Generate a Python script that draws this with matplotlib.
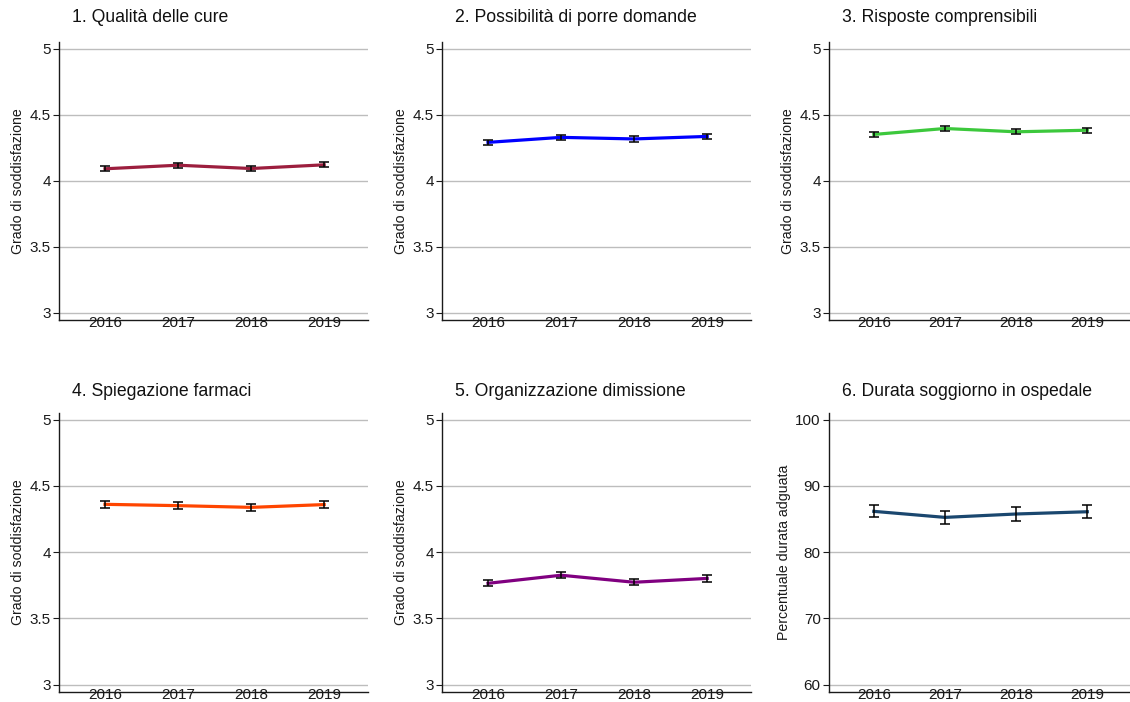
import numpy as np
import matplotlib
matplotlib.use("Agg")
import matplotlib.pyplot as plt

plt.rcParams['font.family'] = ['Liberation Sans', 'DejaVu Sans']

# --- dati ---
anni = [2016, 2017, 2018, 2019]

titoli = [
    "1. Qualità delle cure",
    "2. Possibilità di porre domande",
    "3. Risposte comprensibili",
    "4. Spiegazione farmaci",
    "5. Organizzazione dimissione",
    "6. Durata soggiorno in ospedale",
]
etichette_y = ["Grado di soddisfazione"] * 5 + ["Percentuale durata adguata"]

qualita = [4.09, 4.117, 4.092, 4.12]
qualita_err = [0.02, 0.02, 0.02, 0.02]
domande = [4.29, 4.328, 4.316, 4.335]
domande_err = [0.02, 0.021, 0.021, 0.021]
risposte = [4.35, 4.395, 4.37, 4.382]
risposte_err = [0.017, 0.018, 0.019, 0.019]
farmaci = [4.361, 4.351, 4.338, 4.359]
farmaci_err = [0.025, 0.025, 0.026, 0.025]
dimissione = [3.765, 3.826, 3.773, 3.802]
dimissione_err = [0.022, 0.022, 0.022, 0.024]
durata = [86.16, 85.25, 85.76, 86.1]
durata_err = [0.9, 1.0, 1.0, 1.0]

serie = [qualita, domande, risposte, farmaci, dimissione, durata]
errori = [qualita_err, domande_err, risposte_err, farmaci_err, dimissione_err, durata_err]
colori = ["#9C1E3E", "#0000FF", "#3CC83C", "#FF4500", "#800080", "#1A476F"]

tick_sodd = [3, 3.5, 4, 4.5, 5]
tick_sodd_lab = ["3", "3.5", "4", "4.5", "5"]
tick_perc = [60, 70, 80, 90, 100]
tick_perc_lab = ["60", "70", "80", "90", "100"]

# --- figura ---
W, H = 1130, 702
fig = plt.figure(figsize=(W / 100, H / 100), dpi=100)

col_left = [59, 442, 829]
col_width = [309, 309, 301]
row_top = [42, 413]
row_bottom = [320, 692]

for i in range(6):
    r, c = divmod(i, 3)
    l, w = col_left[c], col_width[c]
    t, b = row_top[r], row_bottom[r]
    ax = fig.add_axes([l / W, 1 - b / H, w / W, (b - t) / H])

    ax.plot(anni, serie[i], color=colori[i], lw=2.3, zorder=3)
    ax.errorbar(anni, serie[i], yerr=errori[i], fmt='none', ecolor='black',
                elinewidth=1.1, capsize=3.8, capthick=1.1, zorder=4)

    if i < 5:
        ax.set_ylim(2.945, 5.05)
        ax.set_yticks(tick_sodd)
        ax.set_yticklabels(tick_sodd_lab)
    else:
        ax.set_ylim(58.9, 101.0)
        ax.set_yticks(tick_perc)
        ax.set_yticklabels(tick_perc_lab)
    ax.set_xlim(2015.37, 2019.6)
    ax.set_xticks(anni)
    ax.set_xticklabels([str(a) for a in anni])

    ax.grid(axis='y', color='#BDBDBD', lw=1.0)
    ax.set_axisbelow(True)
    for s in ['top', 'right']:
        ax.spines[s].set_visible(False)
    for s in ['left', 'bottom']:
        ax.spines[s].set_color('#1a1a1a')
        ax.spines[s].set_linewidth(1.0)

    ax.tick_params(axis='x', length=0, pad=-3, labelsize=11, colors='#1a1a1a')
    ax.tick_params(axis='y', length=4, width=0.8, pad=2, labelsize=11, colors='#1a1a1a')

    ax.set_ylabel(etichette_y[i], fontsize=10.2, color='#1a1a1a')
    off = 34 if i < 5 else 38
    ax.yaxis.set_label_coords(-off / w, 0.5)

    ty = 18 if r == 0 else 392
    fig.text((l + 13) / W, 1 - ty / H, titoli[i], fontsize=12.7,
             ha='left', va='center', color='#111111')

fig.savefig("out.png", dpi=100)
